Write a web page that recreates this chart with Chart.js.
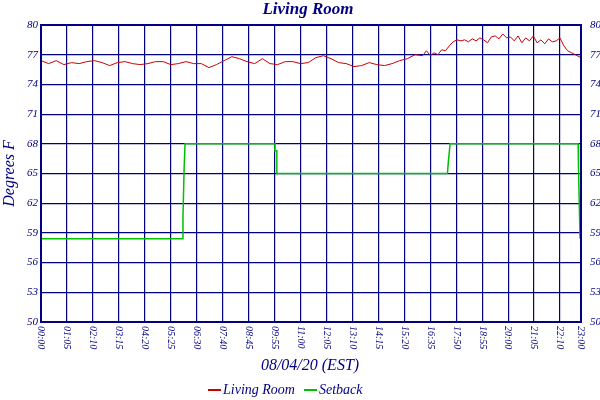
<!DOCTYPE html>
<html>
<head>
<meta charset="utf-8">
<script src="https://cdn.jsdelivr.net/npm/chart.js@4/dist/chart.umd.min.js"></script>
<style>body{margin:0;background:#fff}</style>
</head>
<body>
<canvas id="c" width="600" height="400"></canvas>
<script>
// sample index (5 min samples, gaps in the log) -> label
const tickIdx = [0,13.6,27.2,40.8,54.4,68,81.6,95.2,108.8,122.4,136,149.6,163.2,176.8,190.4,204,217.6,231.2,244.8,258.4,272,283];
const tickLabels = ['00:00','01:05','02:10','03:15','04:20','05:25','06:30','07:40','08:45','09:55','11:00',
  '12:05','13:10','14:15','15:20','16:35','17:50','18:55','20:00','21:05','22:10','23:00'];

// Living Room temperature
const roomIdx = [0,4,8,12,16,20,24,28,32,36,40,44,48,52,56,60,64,68,72,76,80,84,88,92,96,100,104,108,112,116,
  120,124,128,132,136,140,144,148,152,156,160,164,168,172,176,180,184,188,192,196,200,202,204,206,208,210,212,
  214,216,218,220,222,224,226,228,230,232,234,236,238,240,242,244,246,248,250,252,254,256,258,260,262,264,266,
  268,270,272,274,276,278,280,283];
const roomTemp = [76.4,76.1,76.4,76.0,76.2,76.1,76.3,76.4,76.2,75.9,76.2,76.3,76.1,76.0,76.1,76.3,76.3,76.0,76.1,76.3,
  76.1,76.1,75.7,76.0,76.4,76.8,76.6,76.3,76.1,76.6,76.1,76.0,76.3,76.3,76.1,76.2,76.7,76.9,76.6,76.2,
  76.1,75.8,75.9,76.2,76.0,75.9,76.1,76.4,76.6,77.0,76.9,77.4,76.9,77.2,77.0,77.5,77.4,
  77.9,78.3,78.5,78.4,78.5,78.3,78.6,78.4,78.7,78.5,78.2,78.8,78.9,78.6,79.1,78.7,78.8,78.4,78.9,78.2,
  78.7,78.4,78.9,78.2,78.5,78.1,78.6,78.3,78.4,78.7,77.9,77.4,77.2,77.0,76.7];

// Setback
const setIdx = [0,74,74.4,75,75.5,122.6,122.6,123.6,123.6,213,213.4,214.4,281.5,281.7,282.2,282.5];
const setTemp = [58.4,58.4,60.5,65.5,68,68,67.3,67.3,65,65,66,68,68,65.5,61,58.4];

const navy = '#000080';
const serif = '"Liberation Serif", "DejaVu Serif", serif';
const toXY = (xs, ys) => xs.map((x, i) => ({x, y: ys[i]}));

const decor = {
  id: 'decor',
  afterDraw(chart) {
    const {ctx, chartArea: a, scales} = chart;
    ctx.save();
    ctx.strokeStyle = navy; ctx.lineWidth = 2;
    ctx.strokeRect(a.left, a.top, a.right - a.left, a.bottom - a.top);
    ctx.fillStyle = navy;
    ctx.font = 'italic bold 17px ' + serif;
    ctx.textAlign = 'center'; ctx.textBaseline = 'middle';
    ctx.fillText('Living Room', 308, 10);
    ctx.font = 'italic 16px ' + serif;
    ctx.fillText('08/04/20 (EST)', 310, 366);
    // x tick labels, reading top to bottom
    ctx.font = 'italic 10px ' + serif;
    tickIdx.forEach((v, i) => {
      const x = scales.x.getPixelForValue(v);
      ctx.save();
      ctx.translate(x, a.bottom + 4);
      ctx.rotate(Math.PI / 2);
      ctx.textAlign = 'left';
      ctx.fillText(tickLabels[i], 0, 0);
      ctx.restore();
    });
    // legend
    ctx.font = 'italic 14px ' + serif;
    ctx.textAlign = 'left';
    ctx.lineWidth = 2;
    ctx.strokeStyle = '#cc0000';
    ctx.beginPath(); ctx.moveTo(208, 390); ctx.lineTo(221, 390); ctx.stroke();
    ctx.fillText('Living Room', 223, 390);
    ctx.strokeStyle = '#00c000';
    ctx.beginPath(); ctx.moveTo(304, 390); ctx.lineTo(317, 390); ctx.stroke();
    ctx.fillText('Setback', 319, 390);
    ctx.restore();
  }
};

const yTicks = {
  color: navy, font: {family: serif, style: 'italic', size: 11},
  stepSize: 3, padding: 3
};

new Chart(document.getElementById('c'), {
  type: 'line',
  data: {
    datasets: [
      {label: 'Living Room', data: toXY(roomIdx, roomTemp), borderColor: '#cc0000', borderWidth: 1, pointRadius: 0, tension: 0},
      {label: 'Setback', data: toXY(setIdx, setTemp), borderColor: '#00c000', borderWidth: 1.5, pointRadius: 0, tension: 0}
    ]
  },
  options: {
    responsive: false, animation: false,
    layout: {padding: {top: 25, left: 0, right: 0, bottom: 0}},
    plugins: {legend: {display: false}, title: {display: false}, tooltip: {enabled: false}},
    scales: {
      x: {
        type: 'linear', min: 0, max: 283,
        afterBuildTicks: s => { s.ticks = tickIdx.map(v => ({value: v})); },
        ticks: {display: false},
        grid: {color: navy, lineWidth: 1.2, drawTicks: false},
        border: {display: false},
        afterFit: s => { s.height = 78; }
      },
      y: {
        position: 'left', min: 50, max: 80,
        ticks: yTicks,
        grid: {color: navy, lineWidth: 1.2, drawTicks: false},
        border: {display: false},
        title: {display: true, text: 'Degrees F', color: navy, font: {family: serif, style: 'italic', size: 16}, padding: 0},
        afterFit: s => { s.width = 41; }
      },
      y2: {
        position: 'right', min: 50, max: 80,
        ticks: {...yTicks, padding: 1},
        grid: {display: false},
        border: {display: false},
        afterFit: s => { s.width = 19; }
      }
    }
  },
  plugins: [decor]
});
</script>
</body>
</html>
